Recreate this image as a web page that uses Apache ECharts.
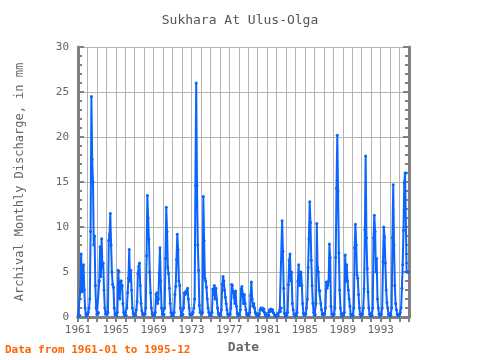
<!DOCTYPE html>
<html>
<head>
<meta charset="utf-8">
<script src="https://cdn.jsdelivr.net/npm/echarts@6/dist/echarts.min.js"></script>
<style>html,body{margin:0;padding:0;background:#fff}#c{width:480px;height:360px}</style>
</head>
<body>
<div id="c"></div>
<script>
var startYear = 1961;
var endYear = 1995;
var tickYears = [1961, 1965, 1969, 1973, 1977, 1981, 1985, 1989, 1993];
var yTicks = [0, 5, 10, 15, 20, 25, 30];

// monthly discharge (mm), Jan..Dec of each year
var discharge1961to1967 = [
  0.1,0.1,0.2,3.0,7.0,2.8,4.5,5.8,3.0,1.0,0.3,0.1,
  0.3,0.5,1,2.0,9.5,24.5,17.5,15,8,9,3.5,1,
  0.3,0.3,0.5,4,7.8,4.5,8.7,5.5,6,3,1,0.3,
  0.5,0.3,0.5,8.5,9.2,11.5,8,5,3.6,3.3,1,0.3,
  0.2,0.2,0.5,5.2,5,2,4,4,3.5,1.5,0.5,0.2,
  0.2,0.2,1,2.7,4.3,7.5,4,5.2,3,1,0.4,0.2,
  0.2,0.2,0.8,1.7,4.8,5.6,6,3.5,1.5,0.7,0.3,0.2
];
var discharge1968to1974 = [
  0.3,0.3,1,6.8,13.5,11,8.6,5,2.7,1,0.4,0.2,
  0.2,0.2,0.5,2.5,2.7,1.5,2,4.9,7.7,4,1,0.3,
  0.2,0.3,1,6.5,12.2,9.5,5.5,4.8,3.2,1.5,0.5,0.2,
  0.2,0.2,0.5,2.5,3.4,6.4,9.2,7.5,4,3.5,1,0.2,
  0.2,0.3,1,2.7,2.5,2.9,2.7,3.2,2,1,0.3,0.2,
  0.3,0.3,0.5,1,2,14.6,26,14.6,8,5.2,1.3,0.5,
  0.5,0.3,0.5,13.4,8.5,4.3,4,3.3,2,1,0.5,0.2
];
var discharge1975to1981 = [
  0.2,0.2,0.5,3.1,2.5,3.5,2,3.2,2,1,0.4,0.2,
  0.2,0.2,0.8,3.6,4.5,4,3,2.2,1.5,0.8,0.3,0.2,
  0.3,0.3,1,3.6,3.5,2.8,2.2,1.5,2.9,1.2,0.4,0.2,
  0.2,0.2,0.8,3.1,3.4,2.5,1.5,2.5,1.5,0.8,0.3,0.2,
  0.2,0.2,0.5,2.4,3.9,2,1.2,1.5,1,0.5,0.3,0.2,
  0.1,0.1,0.3,0.8,1,0.8,1,0.7,0.9,0.5,0.2,0.1,
  0.1,0.1,0.2,0.8,0.6,0.9,0.7,0.8,0.5,0.3,0.1,0.1
];
var discharge1982to1988 = [
  0.1,0.1,0.2,0.5,0.8,0.6,1,10.7,7.3,3.2,0.4,0.1,
  0.1,0.2,0.5,3.6,6.3,7,4,5,1.5,0.8,0.3,0.1,
  0.2,0.2,0.5,4,5.8,3.5,4.5,5,3.5,1.5,0.4,0.2,
  0.3,0.3,1,2,5.5,8.7,12.8,10.5,6.3,3.5,1.5,0.5,
  0.2,0.3,1.5,10.4,5.5,5,3,2.9,1.5,0.8,0.3,0.2,
  0.3,0.3,1,3.9,3.2,3.5,4,8.1,6.6,1.2,0.3,0.1,
  0.3,0.3,1,6.6,14.3,20.2,14,7.1,3,1,0.3,0.1
];
var discharge1989to1995 = [
  0.1,0.2,0.5,6.9,4,5.8,4,3,2,1.2,0.3,0.1,
  0.1,0.2,1,7.7,10.3,8,4.7,4.3,2.5,1,0.3,0.1,
  0.2,0.3,1,3.1,9.7,17.9,8.8,5.4,2.8,1,0.3,0.1,
  0.1,0.2,1,8.8,11.3,9.5,5,6.5,2,1,0.3,0.1,
  0.3,0.3,1,6.1,10,8.9,6,3,1.6,1,0.3,0.2,
  0.1,0.2,1,8.8,14.7,8,3.5,1.5,0.8,0.3,0.2,0.1,
  0.3,0.5,1,3.2,5.8,9.6,14.9,16,16,5,5,5
];

var values = [].concat(discharge1961to1967, discharge1968to1974, discharge1975to1981,
                       discharge1982to1988, discharge1989to1995);
var seriesData = values.map(function (v, i) {
  return [startYear + i / 12, v];
});

var FONT = 'DejaVu Sans Mono';
var AX = '#808080';
var chart = echarts.init(document.getElementById('c'), null, {renderer: 'canvas'});
chart.setOption({
  animation: false,
  backgroundColor: '#ffffff',
  title: {
    text: 'Sukhara At Ulus-Olga',
    left: 'center', top: 9,
    textStyle: {fontFamily: FONT, fontSize: 13, fontWeight: 'normal', color: '#555555'}
  },
  graphic: [{
    type: 'text', left: 5, top: 345,
    style: {text: 'Data from 1961-01 to 1995-12', fill: '#ff6600',
            font: 'bold 11px "DejaVu Sans Mono"'}
  }],
  grid: {left: 78, right: 71, top: 47, bottom: 43},
  xAxis: [{
    type: 'value', min: startYear, max: endYear + 1, interval: 1,
    name: 'Date', nameLocation: 'middle', nameGap: 23,
    nameTextStyle: {fontFamily: FONT, fontSize: 13, fontWeight: 'bold', color: '#666666'},
    axisLine: {show: true, lineStyle: {color: AX, width: 3}},
    axisTick: {show: true, inside: true, length: 5, lineStyle: {color: AX, width: 2}},
    axisLabel: {
      fontFamily: FONT, fontSize: 11, color: '#666666', margin: 8,
      formatter: function (v) { return tickYears.indexOf(v) >= 0 ? String(v) : ''; }
    },
    splitLine: {show: true, lineStyle: {color: '#b4b4b4', width: 1}}
  }, {
    type: 'value', position: 'top', min: startYear, max: endYear + 1, interval: 1,
    axisLine: {show: true, lineStyle: {color: AX, width: 3}},
    axisTick: {show: true, inside: true, length: 5, lineStyle: {color: AX, width: 2}},
    axisLabel: {show: false}, splitLine: {show: false}
  }],
  yAxis: [{
    type: 'value', min: yTicks[0], max: yTicks[yTicks.length - 1], interval: 5,
    name: 'Archival Monthly Discharge, in mm', nameLocation: 'middle', nameGap: 52,
    nameTextStyle: {fontFamily: FONT, fontSize: 12, color: '#666666'},
    axisLine: {show: true, lineStyle: {color: AX, width: 3}},
    axisTick: {show: true, inside: true, length: 6, lineStyle: {color: AX, width: 2}},
    minorTick: {show: true, splitNumber: 5, length: 4, lineStyle: {color: AX, width: 2}},
    axisLabel: {fontFamily: FONT, fontSize: 11, color: '#666666', margin: 9},
    splitLine: {show: true, lineStyle: {color: '#b4b4b4', width: 1}}
  }, {
    type: 'value', position: 'right', min: 0, max: 30, interval: 5,
    axisLine: {show: true, lineStyle: {color: AX, width: 3}},
    axisTick: {show: true, inside: true, length: 6, lineStyle: {color: AX, width: 2}},
    minorTick: {show: true, splitNumber: 5, length: 4, lineStyle: {color: AX, width: 2}},
    axisLabel: {show: false}, splitLine: {show: false}
  }],
  series: [{
    type: 'line', xAxisIndex: 0, yAxisIndex: 0,
    data: seriesData,
    symbol: 'circle', symbolSize: 3, showSymbol: true,
    lineStyle: {color: '#0a64ff', width: 2},
    itemStyle: {color: '#0a64ff'}
  }]
});
</script>
</body>
</html>
